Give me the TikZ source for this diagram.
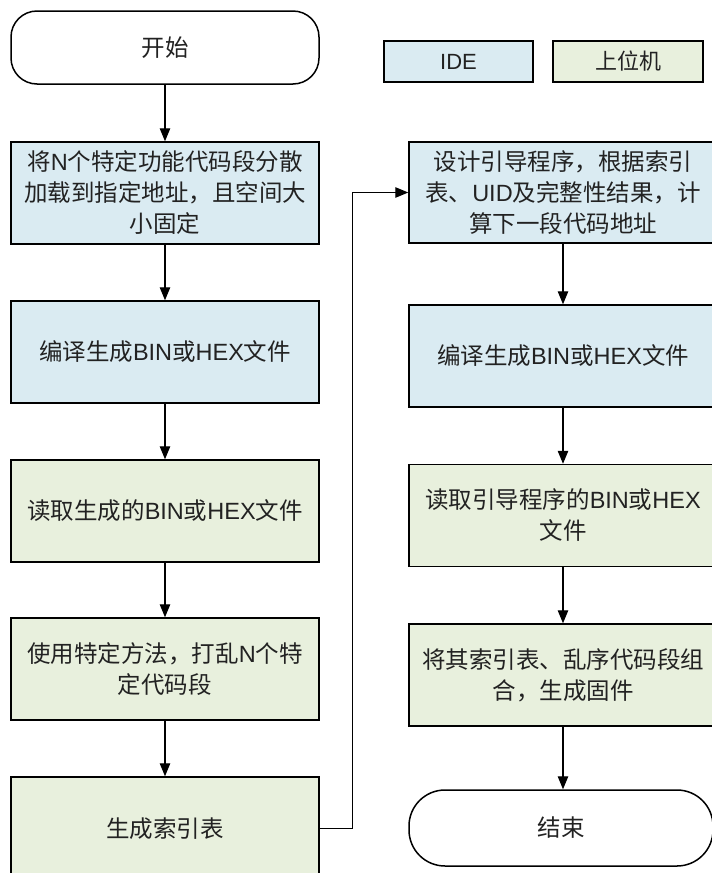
\documentclass[tikz,border=0pt]{standalone}
\usepackage{fontspec}
\setmainfont{Noto Sans CJK SC}
\newfontfamily\latf{Liberation Sans}
\newcommand{\La}[1]{{\latf #1}}
\usetikzlibrary{arrows.meta}
\definecolor{ideblue}{HTML}{DAEBF2}
\definecolor{pcgreen}{HTML}{E8F0DD}
\definecolor{txt}{HTML}{222222}
\tikzset{
  box/.style={draw=black, line width=1.5pt, minimum width=308pt, minimum height=102pt,
    align=center, inner sep=0pt, text=txt, font=\fontsize{23.5}{31}\selectfont},
  idebox/.style={box, fill=ideblue},
  pcbox/.style={box, fill=pcgreen},
  term/.style={box, fill=white, rounded corners=26pt, minimum height=73pt},
  legbox/.style={draw=black, line width=1.3pt, minimum width=149pt, minimum height=41pt,
    inner sep=0pt, text=txt, font=\fontsize{22}{26}\selectfont},
  arr/.style={-{Triangle[length=13pt,width=10.5pt]}, line width=1.1pt}
}
\begin{document}
\begin{tikzpicture}[x=1pt,y=-1pt]
\useasboundingbox (0,0) rectangle (712,873);
\clip (0,0) rectangle (712,873);
\fill[white] (0,0) rectangle (712,873);
% left column
\node[term] (start) at (165,47.5) {开始};
\node[idebox] (b1) at (165,193) {将\La{N}个特定功能代码段分散\\加载到指定地址，且空间大\\小固定};
\node[idebox] (b2) at (165,352) {编译生成\La{BIN}或\La{HEX}文件};
\node[pcbox] (b3) at (165,511) {读取生成的\La{BIN}或\La{HEX}文件};
\node[pcbox] (b4) at (165,669) {使用特定方法，打乱\La{N}个特\\定代码段};
\node[pcbox, minimum height=103pt] (b5) at (165,828.5) {生成索引表};
% right column
\node[idebox, minimum height=101pt] (r1) at (563,192.5) {设计引导程序，根据索引\\表、\La{UID}及完整性结果，计\\算下一段代码地址};
\node[idebox] (r2) at (563,356) {编译生成\La{BIN}或\La{HEX}文件};
\node[pcbox] (r3) at (563,515.5) {读取引导程序的\La{BIN}或\La{HEX}\\文件};
\node[pcbox] (r4) at (563,675) {将其索引表、乱序代码段组\\合，生成固件};
\node[term, rounded corners=36pt, minimum width=304pt, minimum height=76pt] (end) at (561,828) {结束};
% legend
\node[legbox, fill=ideblue] (lide) at (458.5,61.5) {\La{IDE}};
\node[legbox, fill=pcgreen, minimum width=150pt] (lpc) at (628,61.5) {上位机};
% connectors
\draw[arr] (start) -- (b1);
\draw[arr] (b1) -- (b2);
\draw[arr] (b2) -- (b3);
\draw[arr] (b3) -- (b4);
\draw[arr] (b4) -- (b5);
\draw[arr] (b5.east) -- ++(33,0) |- (r1.west);
\draw[arr] (r1) -- (r2);
\draw[arr] (r2) -- (r3);
\draw[arr] (r3) -- (r4);
\draw[arr] (r4.south) -- (r4.south |- end.north);
\end{tikzpicture}
\end{document}
